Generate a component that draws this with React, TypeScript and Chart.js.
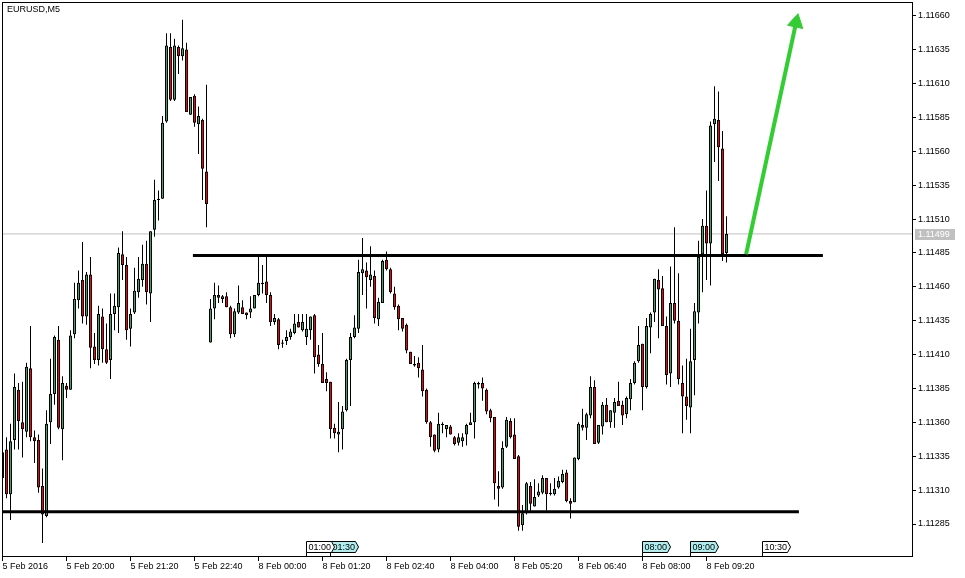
import { useEffect, useRef } from "react";
import { Chart, registerables } from "chart.js";

Chart.register(...registerables);

const symbolTitle = "EURUSD,M5";

const opens = [
  1.11319, 1.11340, 1.11307, 1.11347, 1.11384, 1.11360, 1.11353, 1.11400, 1.11349, 1.11347,
  1.11313, 1.11291, 1.11360, 1.11381, 1.11421, 1.11355, 1.11387, 1.11384, 1.11425, 1.11450,
  1.11465, 1.11438, 1.11469, 1.11416, 1.11406, 1.11438, 1.11414, 1.11406, 1.11440, 1.11445,
  1.11484, 1.11476, 1.11429, 1.11441, 1.11456, 1.11465, 1.11477, 1.11455, 1.11502, 1.11524,
  1.11525, 1.11582, 1.11637, 1.11598, 1.11637, 1.11630, 1.11635, 1.11587, 1.11601, 1.11580,
  1.11583, 1.11545, 1.11419, 1.11444, 1.11454, 1.11451, 1.11453, 1.11445, 1.11425, 1.11441,
  1.11445, 1.11441, 1.11441, 1.11444, 1.11454, 1.11462, 1.11464, 1.11454, 1.11434, 1.11436,
  1.11418, 1.11420, 1.11423, 1.11426, 1.11434, 1.11428, 1.11423, 1.11428, 1.11439, 1.11410,
  1.11403, 1.11392, 1.11390, 1.11356, 1.11351, 1.11355, 1.11369, 1.11406, 1.11423, 1.11429,
  1.11470, 1.11472, 1.11465, 1.11468, 1.11436, 1.11448, 1.11480, 1.11473, 1.11455, 1.11446,
  1.11437, 1.11432, 1.11412, 1.11402, 1.11404, 1.11399, 1.11384, 1.11360, 1.11351, 1.11340,
  1.11359, 1.11355, 1.11357, 1.11349, 1.11345, 1.11346, 1.11351, 1.11358, 1.11360, 1.11388,
  1.11389, 1.11384, 1.11369, 1.11364, 1.11313, 1.11312, 1.11342, 1.11361, 1.11351, 1.11335,
  1.11284, 1.11293, 1.11313, 1.11298, 1.11306, 1.11308, 1.11319, 1.11307, 1.11307, 1.11312,
  1.11316, 1.11323, 1.11302, 1.11301, 1.11333, 1.11358, 1.11356, 1.11365, 1.11386, 1.11345,
  1.11357, 1.11373, 1.11360, 1.11367, 1.11376, 1.11373, 1.11366, 1.11377, 1.11389, 1.11405,
  1.11418, 1.11386, 1.11430, 1.11441, 1.11465, 1.11459, 1.11431, 1.11396, 1.11448, 1.11435,
  1.11389, 1.11379, 1.11371, 1.11406, 1.11441, 1.11484, 1.11505, 1.11492, 1.11580, 1.11583,
  1.11562, 1.11485,
];

const highs = [
  1.11339, 1.11349, 1.11359, 1.11396, 1.11389, 1.11390, 1.11404, 1.11431, 1.11354, 1.11351,
  1.11326, 1.11369, 1.11407, 1.11424, 1.11431, 1.11394, 1.11389, 1.11428, 1.11463, 1.11472,
  1.11493, 1.11471, 1.11482, 1.11426, 1.11446, 1.11444, 1.11433, 1.11455, 1.11455, 1.11489,
  1.11501, 1.11482, 1.11444, 1.11474, 1.11482, 1.11491, 1.11494, 1.11501, 1.11539, 1.11531,
  1.11586, 1.11647, 1.11647, 1.11643, 1.11638, 1.11657, 1.11640, 1.11600, 1.11602, 1.11593,
  1.11584, 1.11609, 1.11451, 1.11463, 1.11461, 1.11454, 1.11456, 1.11446, 1.11444, 1.11461,
  1.11450, 1.11441, 1.11453, 1.11454, 1.11482, 1.11476, 1.11482, 1.11456, 1.11440, 1.11437,
  1.11421, 1.11428, 1.11429, 1.11440, 1.11440, 1.11440, 1.11440, 1.11438, 1.11440, 1.11417,
  1.11426, 1.11397, 1.11390, 1.11359, 1.11375, 1.11372, 1.11407, 1.11426, 1.11439, 1.11480,
  1.11496, 1.11478, 1.11490, 1.11472, 1.11452, 1.11480, 1.11486, 1.11474, 1.11460, 1.11447,
  1.11437, 1.11433, 1.11412, 1.11409, 1.11408, 1.11417, 1.11385, 1.11361, 1.11351, 1.11367,
  1.11360, 1.11358, 1.11358, 1.11350, 1.11352, 1.11352, 1.11359, 1.11367, 1.11390, 1.11390,
  1.11393, 1.11385, 1.11370, 1.11364, 1.11324, 1.11346, 1.11364, 1.11363, 1.11363, 1.11336,
  1.11299, 1.11316, 1.11316, 1.11318, 1.11315, 1.11321, 1.11319, 1.11315, 1.11319, 1.11320,
  1.11325, 1.11325, 1.11304, 1.11334, 1.11360, 1.11370, 1.11367, 1.11394, 1.11391, 1.11358,
  1.11375, 1.11378, 1.11369, 1.11378, 1.11390, 1.11376, 1.11379, 1.11392, 1.11405, 1.11431,
  1.11418, 1.11437, 1.11441, 1.11466, 1.11473, 1.11468, 1.11438, 1.11475, 1.11504, 1.11470,
  1.11402, 1.11407, 1.11429, 1.11448, 1.11494, 1.11510, 1.11531, 1.11582, 1.11608, 1.11604,
  1.11575, 1.11512,
];

const lows = [
  1.11317, 1.11304, 1.11288, 1.11340, 1.11340, 1.11334, 1.11349, 1.11346, 1.11330, 1.11308,
  1.11271, 1.11290, 1.11344, 1.11373, 1.11355, 1.11332, 1.11378, 1.11384, 1.11422, 1.11444,
  1.11433, 1.11432, 1.11400, 1.11403, 1.11402, 1.11404, 1.11403, 1.11392, 1.11428, 1.11426,
  1.11465, 1.11421, 1.11416, 1.11440, 1.11452, 1.11460, 1.11447, 1.11434, 1.11497, 1.11509,
  1.11525, 1.11581, 1.11597, 1.11597, 1.11617, 1.11627, 1.11589, 1.11587, 1.11578, 1.11558,
  1.11524, 1.11504, 1.11419, 1.11436, 1.11448, 1.11448, 1.11445, 1.11422, 1.11423, 1.11440,
  1.11440, 1.11436, 1.11437, 1.11444, 1.11453, 1.11455, 1.11448, 1.11431, 1.11432, 1.11414,
  1.11415, 1.11417, 1.11421, 1.11425, 1.11430, 1.11427, 1.11417, 1.11421, 1.11396, 1.11401,
  1.11389, 1.11383, 1.11348, 1.11348, 1.11338, 1.11340, 1.11368, 1.11372, 1.11422, 1.11426,
  1.11454, 1.11444, 1.11460, 1.11433, 1.11431, 1.11448, 1.11472, 1.11455, 1.11443, 1.11428,
  1.11427, 1.11411, 1.11403, 1.11401, 1.11393, 1.11379, 1.11359, 1.11342, 1.11338, 1.11338,
  1.11352, 1.11349, 1.11351, 1.11343, 1.11343, 1.11342, 1.11343, 1.11358, 1.11348, 1.11385,
  1.11376, 1.11366, 1.11360, 1.11303, 1.11298, 1.11311, 1.11341, 1.11348, 1.11333, 1.11280,
  1.11280, 1.11292, 1.11294, 1.11298, 1.11305, 1.11307, 1.11295, 1.11306, 1.11306, 1.11311,
  1.11315, 1.11301, 1.11289, 1.11301, 1.11332, 1.11354, 1.11347, 1.11363, 1.11344, 1.11344,
  1.11351, 1.11360, 1.11356, 1.11356, 1.11372, 1.11358, 1.11363, 1.11369, 1.11388, 1.11404,
  1.11369, 1.11385, 1.11411, 1.11434, 1.11422, 1.11431, 1.11388, 1.11386, 1.11433, 1.11388,
  1.11352, 1.11362, 1.11352, 1.11380, 1.11433, 1.11456, 1.11465, 1.11461, 1.11552, 1.11538,
  1.11479, 1.11478,
];

const closes = [
  1.11338, 1.11307, 1.11346, 1.11386, 1.11361, 1.11355, 1.11401, 1.11349, 1.11346, 1.11312,
  1.11292, 1.11359, 1.11381, 1.11423, 1.11356, 1.11389, 1.11384, 1.11424, 1.11451, 1.11463,
  1.11438, 1.11469, 1.11415, 1.11406, 1.11440, 1.11414, 1.11404, 1.11440, 1.11446, 1.11485,
  1.11476, 1.11428, 1.11440, 1.11457, 1.11466, 1.11477, 1.11456, 1.11501, 1.11524, 1.11525,
  1.11581, 1.11638, 1.11598, 1.11638, 1.11630, 1.11636, 1.11589, 1.11600, 1.11581, 1.11586,
  1.11547, 1.11521, 1.11444, 1.11454, 1.11452, 1.11453, 1.11445, 1.11425, 1.11442, 1.11448,
  1.11440, 1.11439, 1.11444, 1.11454, 1.11463, 1.11463, 1.11454, 1.11434, 1.11437, 1.11417,
  1.11419, 1.11423, 1.11427, 1.11433, 1.11430, 1.11434, 1.11429, 1.11438, 1.11408, 1.11403,
  1.11389, 1.11389, 1.11355, 1.11352, 1.11353, 1.11368, 1.11406, 1.11423, 1.11430, 1.11471,
  1.11473, 1.11467, 1.11469, 1.11437, 1.11449, 1.11479, 1.11473, 1.11456, 1.11445, 1.11436,
  1.11429, 1.11413, 1.11403, 1.11403, 1.11400, 1.11383, 1.11360, 1.11349, 1.11339, 1.11359,
  1.11358, 1.11358, 1.11351, 1.11344, 1.11349, 1.11349, 1.11358, 1.11360, 1.11389, 1.11389,
  1.11385, 1.11368, 1.11363, 1.11315, 1.11311, 1.11341, 1.11362, 1.11349, 1.11333, 1.11283,
  1.11293, 1.11315, 1.11300, 1.11305, 1.11309, 1.11319, 1.11307, 1.11308, 1.11311, 1.11317,
  1.11322, 1.11302, 1.11300, 1.11334, 1.11359, 1.11356, 1.11366, 1.11386, 1.11344, 1.11358,
  1.11373, 1.11360, 1.11369, 1.11375, 1.11372, 1.11365, 1.11378, 1.11389, 1.11404, 1.11417,
  1.11386, 1.11431, 1.11440, 1.11466, 1.11458, 1.11431, 1.11395, 1.11448, 1.11435, 1.11392,
  1.11379, 1.11372, 1.11405, 1.11442, 1.11482, 1.11505, 1.11492, 1.11579, 1.11584, 1.11563,
  1.11484, 1.11499,
];

const xTickBars = [0, 16, 32, 48, 64, 80, 96, 112, 128, 144, 160, 176];
const xTickLabels = [
  "5 Feb 2016", "5 Feb 20:00", "5 Feb 21:20", "5 Feb 22:40", "8 Feb 00:00", "8 Feb 01:20",
  "8 Feb 02:40", "8 Feb 04:00", "8 Feb 05:20", "8 Feb 06:40", "8 Feb 08:00", "8 Feb 09:20",
];
const yTickValues = [
  1.11285, 1.1131, 1.11335, 1.1136, 1.11385, 1.1141, 1.11435, 1.1146,
  1.11485, 1.1151, 1.11535, 1.1156, 1.11585, 1.1161, 1.11635, 1.1166,
];

const bidPrice = 1.11499;
const supportPrice = 1.11294;
const supportBars = [-0.125, 199.1];
const resistancePrice = 1.11483;
const resistanceBars = [47.6, 205.1];
const arrowBars = [185.9, 198.4];
const arrowPrices = [1.11484, 1.11655];

const eventBars = [76, 82, 160, 172, 190];
const eventLabels = ["01:00", "01:30", "08:00", "09:00", "10:30"];
const eventActive = [false, true, true, true, false];

const priceMin = 1.11260664;
const priceMax = 1.11670107;
const barMin = -0.125;
const barMax = 227.375;

const FONT_FAMILY = "'Liberation Sans', Arial, sans-serif";
const FONT_SIZE = 9;
const BULL = "#34a86a";
const BEAR = "#ff0000";
const ARROW = "#32cd32";

const overlayPlugin = {
  id: "mt4Overlay",
  afterDraw(chart: any) {
    const { ctx, chartArea: a, scales } = chart;
    const xs = scales.x;
    const ys = scales.y;
    ctx.save();
    ctx.font = `${FONT_SIZE}px ${FONT_FAMILY}`;

    // frame
    ctx.strokeStyle = "#000";
    ctx.lineWidth = 1;
    ctx.strokeRect(a.left + 0.5, a.top + 0.5, a.right - a.left, a.bottom - a.top - 1);

    // title
    ctx.fillStyle = "#000";
    ctx.textBaseline = "middle";
    ctx.textAlign = "left";
    ctx.fillText(symbolTitle, a.left + 5, a.top + 8);

    // bid price label
    const py = Math.round(ys.getPixelForValue(bidPrice));
    ctx.fillStyle = "#c0c0c0";
    ctx.fillRect(a.right + 3, py - 5, 40, 11);
    ctx.fillStyle = "#ffffff";
    ctx.fillText(bidPrice.toFixed(5), a.right + 6, py + 0.5);

    // event markers
    const T = a.bottom - 15.5;
    const B = a.bottom - 4.5;
    for (let k = eventBars.length - 1; k >= 0; k--) {
      const L = Math.floor(xs.getPixelForValue(eventBars[k])) + 0.5;
      ctx.beginPath();
      ctx.moveTo(L, T);
      ctx.lineTo(L + 25, T);
      ctx.lineTo(L + 28, (T + B) / 2);
      ctx.lineTo(L + 25, B);
      ctx.lineTo(L, B);
      ctx.closePath();
      ctx.fillStyle = eventActive[k] ? "#afeeee" : "#ffffff";
      ctx.fill();
      ctx.strokeStyle = "#000";
      ctx.stroke();
      ctx.beginPath();
      ctx.moveTo(L, B);
      ctx.lineTo(L, a.bottom);
      ctx.stroke();
      ctx.fillStyle = "#000";
      ctx.fillText(eventLabels[k], L + 2, (T + B) / 2 + 0.5);
    }
    ctx.restore();
  },
};

export default function App() {
  const ref = useRef<HTMLCanvasElement>(null);

  useEffect(() => {
    const idx = opens.map((_, i) => i);
    const font = { family: FONT_FAMILY, size: FONT_SIZE };
    const chart = new Chart(ref.current as HTMLCanvasElement, {
      type: "bar",
      data: {
        datasets: [
          {
            type: "bar",
            label: "body",
            data: idx.map((i) => ({ x: i, y: [opens[i], closes[i]] })) as any,
            backgroundColor: idx.map((i) => (closes[i] >= opens[i] ? BULL : BEAR)),
            borderColor: "#000",
            borderWidth: 1,
            borderSkipped: false,
            barThickness: 3,
            grouped: false,
            inflateAmount: 0,
            order: 1,
          } as any,
          {
            type: "bar",
            label: "wick",
            data: idx.map((i) => ({ x: i, y: [lows[i], highs[i]] })) as any,
            backgroundColor: "#000",
            borderWidth: 0,
            barThickness: 1,
            grouped: false,
            inflateAmount: 0,
            order: 2,
          } as any,
          {
            type: "line",
            label: "bid",
            data: [
              { x: barMin, y: bidPrice },
              { x: barMax, y: bidPrice },
            ],
            borderColor: "#c0c0c0",
            borderWidth: 1,
            pointRadius: 0,
            order: 3,
          } as any,
          {
            type: "line",
            label: "support",
            data: supportBars.map((b) => ({ x: b, y: supportPrice })),
            borderColor: "#000",
            borderWidth: 3,
            pointRadius: 0,
            order: 0,
          } as any,
          {
            type: "line",
            label: "resistance",
            data: resistanceBars.map((b) => ({ x: b, y: resistancePrice })),
            borderColor: "#000",
            borderWidth: 3,
            pointRadius: 0,
            order: 0,
          } as any,
          {
            type: "line",
            label: "arrow",
            data: arrowBars.map((b, k) => ({ x: b, y: arrowPrices[k] })),
            borderColor: ARROW,
            borderWidth: 4,
            pointRadius: [0, 9],
            pointStyle: "triangle",
            rotation: [0, 12.2],
            pointBackgroundColor: ARROW,
            pointBorderColor: ARROW,
            pointBorderWidth: 1,
            order: -1,
          } as any,
        ],
      },
      options: {
        animation: false,
        responsive: false,
        devicePixelRatio: 1,
        events: [],
        layout: { autoPadding: false, padding: { left: 2, top: 2, right: 0, bottom: 0 } },
        plugins: { legend: { display: false }, tooltip: { enabled: false } },
        scales: {
          x: {
            type: "linear",
            min: barMin,
            max: barMax,
            offset: false,
            afterBuildTicks: (s: any) => {
              s.ticks = xTickBars.map((v) => ({ value: v }));
            },
            afterFit: (s: any) => {
              s.height = 21;
              s.paddingLeft = 0;
              s.paddingRight = 0;
            },
            grid: { offset: false, drawOnChartArea: false, drawTicks: true, tickLength: 4, color: "#000" },
            border: { display: false },
            ticks: {
              align: "start",
              padding: 0,
              maxRotation: 0,
              minRotation: 0,
              autoSkip: false,
              color: "#000",
              font,
              callback: (_v: any, i: number) => xTickLabels[i] ?? "",
            },
          } as any,
          y: {
            type: "linear",
            position: "right",
            min: priceMin,
            max: priceMax,
            beginAtZero: false,
            afterBuildTicks: (s: any) => {
              s.ticks = yTickValues.map((v) => ({ value: v }));
            },
            afterFit: (s: any) => {
              s.width = 53;
              s.paddingTop = 0;
              s.paddingBottom = 0;
            },
            grid: { drawOnChartArea: false, drawTicks: true, tickLength: 4, color: "#000" },
            border: { display: false },
            ticks: {
              padding: 2,
              autoSkip: false,
              color: "#000",
              font,
              callback: (v: any) => Number(v).toFixed(5),
            },
          } as any,
        },
      },
      plugins: [overlayPlugin],
    });
    return () => chart.destroy();
  }, []);

  return (
    <div style={{ position: "absolute", left: 0, top: 0, width: 965, height: 578, background: "#fff" }}>
      <canvas ref={ref} width={965} height={578} style={{ display: "block", width: 965, height: 578 }} />
    </div>
  );
}
